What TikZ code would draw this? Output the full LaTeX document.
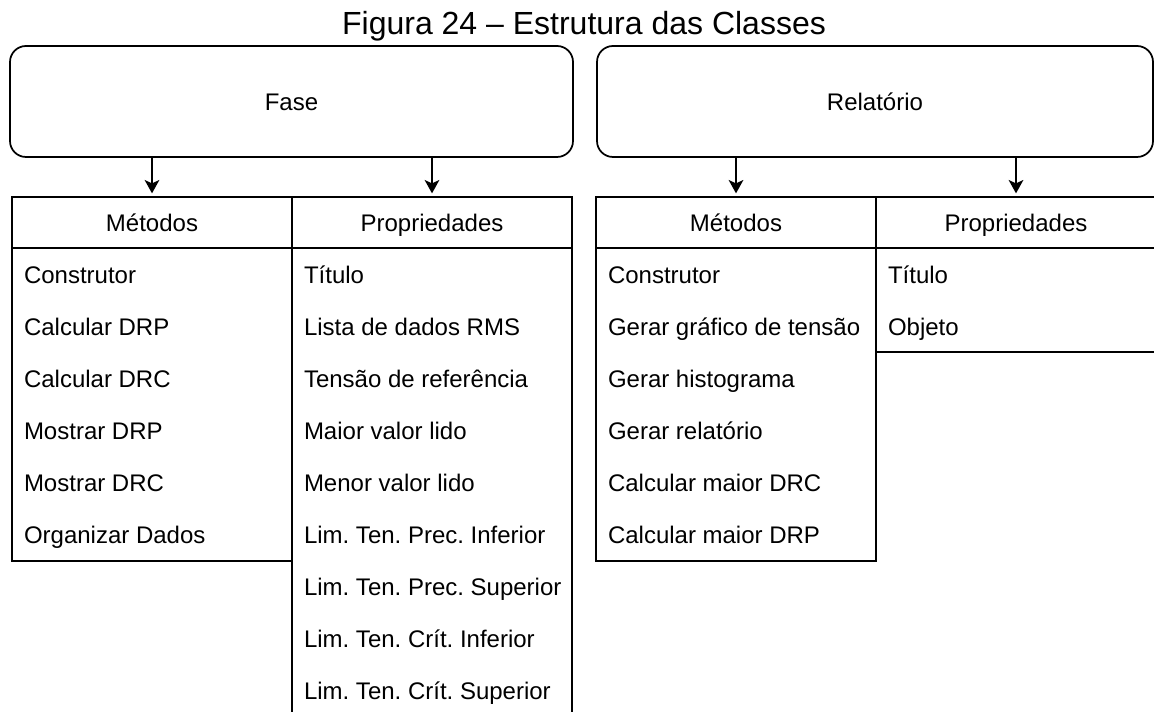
\documentclass[tikz,border=0pt]{standalone}
\usepackage{fontspec}
\setmainfont{Liberation Sans}
\usetikzlibrary{arrows.meta}
\frenchspacing
\begin{document}
\begin{tikzpicture}[x=0.75pt,y=-0.75pt,
  every node/.style={inner sep=0pt, outer sep=0pt},
  ln/.style={draw=black, line width=1.3pt},
  txt/.style={font=\fontsize{18}{21}\selectfont, text height=12.9pt, text depth=0pt},
  classbox/.style={ln, txt, rounded corners=12pt, minimum width=#1, minimum height=83.25pt},
  hcell/.style={ln, txt, minimum width=210pt, minimum height=38.7pt},
  bcell/.style={ln, minimum width=210pt, minimum height=#1, anchor=north},
  item/.style={anchor=base west, font=\fontsize{18}{21}\selectfont},
  arr/.style={ln, -{Stealth[length=10pt,width=11pt,inset=2.5pt]}, shorten >=2.5pt},
]
\path[use as bounding box] (0,0) rectangle (1154,712);
\clip (0,0) rectangle (1154,712);

\node[anchor=base, font=\fontsize{24}{28}\selectfont] (title) at (584,35) {Figura 24 – Estrutura das Classes};

\node[classbox=422.25pt] (fase) at (291.5,101.5) {Fase};
\node[classbox=417pt] (rel) at (875,101.5) {Relatório};

\node[hcell] (fm) at (152,222.5) {Métodos};
\node[hcell] (fp) at (432,222.5) {Propriedades};
\node[hcell] (rm) at (736,222.5) {Métodos};
\node[hcell] (rp) at (1016,222.5) {Propriedades};

\node[bcell=234.3pt] (fmb) at (fm.south) {};
\node[bcell=351pt] (fpb) at (fp.south) {};
\node[bcell=234.3pt] (rmb) at (rm.south) {};
\node[bcell=78pt] (rpb) at (rp.south) {};

\foreach \t [count=\i from 0] in {Construtor, Calcular DRP, Calcular DRC, Mostrar DRP, Mostrar DRC, Organizar Dados}
  \node[item] (fm-\i) at ([xshift=9pt, yshift={-26.25pt-\i*39pt}]fmb.north west) {\t};
\foreach \t [count=\i from 0] in {Título, Lista de dados RMS, Tensão de referência, Maior valor lido, Menor valor lido, Lim. Ten. Prec. Inferior, Lim. Ten. Prec. Superior, Lim. Ten. Crít. Inferior, Lim. Ten. Crít. Superior}
  \node[item] (fp-\i) at ([xshift=9pt, yshift={-26.25pt-\i*39pt}]fpb.north west) {\t};
\foreach \t [count=\i from 0] in {Construtor, Gerar gráfico de tensão, Gerar histograma, Gerar relatório, Calcular maior DRC, Calcular maior DRP}
  \node[item] (rm-\i) at ([xshift=9pt, yshift={-26.25pt-\i*39pt}]rmb.north west) {\t};
\foreach \t [count=\i from 0] in {Título, Objeto}
  \node[item] (rp-\i) at ([xshift=9pt, yshift={-26.25pt-\i*39pt}]rpb.north west) {\t};

\draw[arr] (fase.south -| fm.north) -- (fm.north);
\draw[arr] (fase.south -| fp.north) -- (fp.north);
\draw[arr] (rel.south -| rm.north) -- (rm.north);
\draw[arr] (rel.south -| rp.north) -- (rp.north);
\end{tikzpicture}
\end{document}
